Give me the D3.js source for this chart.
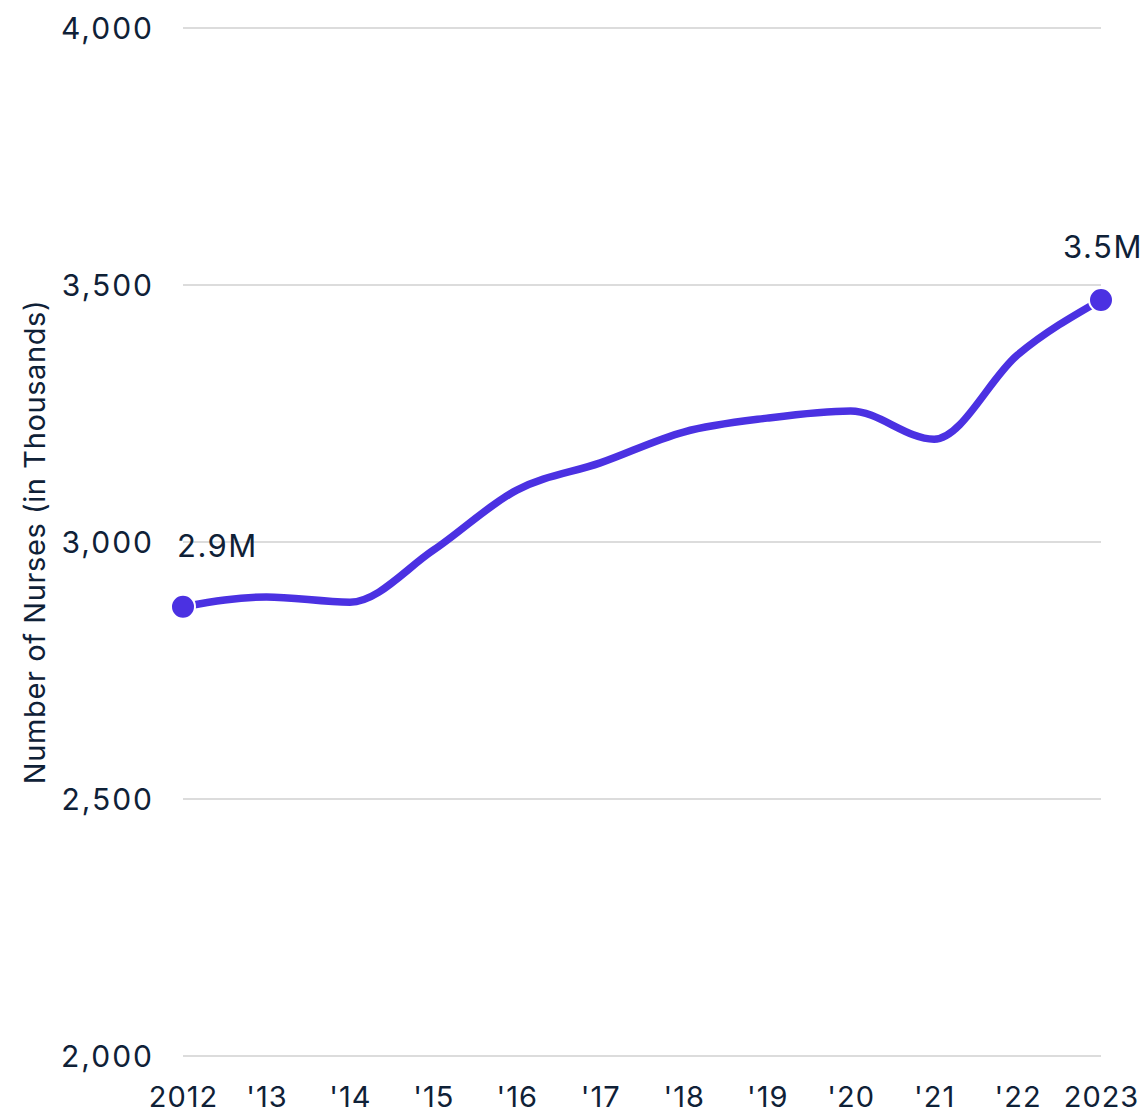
<!DOCTYPE html>
<html>
<head>
<meta charset="utf-8">
<script src="https://cdn.jsdelivr.net/npm/d3@7/dist/d3.min.js"></script>
<style>
  html, body { margin: 0; padding: 0; background: #fff; }
  svg { display: block; font-family: Inter, "Noto Sans", sans-serif; }
</style>
</head>
<body>
<svg id="chart" width="1145" height="1116"></svg>
<script>
const years = [2012, 2013, 2014, 2015, 2016, 2017, 2018, 2019, 2020, 2021, 2022, 2023];
const xTickLabels = ["2012", "'13", "'14", "'15", "'16", "'17", "'18", "'19", "'20", "'21", "'22", "2023"];
const nurses = [2874, 2893, 2883, 2984, 3101, 3154, 3214, 3241, 3255, 3200, 3364, 3471];
const yTicks = [2000, 2500, 3000, 3500, 4000];
const endLabels = ["2.9M", "3.5M"];
const yTitle = "Number of Nurses (in Thousands)";

const svg = d3.select("#chart");
const x = d3.scaleLinear().domain([2012, 2023]).range([183, 1101]);
const y = d3.scaleLinear().domain([2000, 4000]).range([1056, 28]);
const textColor = "#0f2137";
const lineColor = "#4b31e2";

// gridlines
svg.append("g").selectAll("line").data(yTicks).join("line")
  .attr("x1", x(2012)).attr("x2", x(2023))
  .attr("y1", d => y(d)).attr("y2", d => y(d))
  .attr("stroke", "#dcdcdc").attr("stroke-width", 2);

// y axis
const yAxis = svg.append("g").attr("transform", "translate(183,0)")
  .call(d3.axisLeft(y).tickValues(yTicks).tickFormat(d3.format(",")).tickSize(0).tickPadding(29));
yAxis.select(".domain").remove();
yAxis.selectAll("text").attr("font-size", 30).attr("fill", textColor)
  .attr("letter-spacing", "2px")
  .attr("font-family", "Inter, 'Noto Sans', sans-serif").attr("dy", "0.34em");

// x axis
const xAxis = svg.append("g").attr("transform", "translate(0,1056)")
  .call(d3.axisBottom(x).tickValues(years).tickFormat((d, i) => xTickLabels[i]).tickSize(0).tickPadding(30));
xAxis.select(".domain").remove();
xAxis.selectAll("text").attr("font-size", 29).attr("fill", textColor)
  .attr("letter-spacing", "1px")
  .attr("font-family", "Inter, 'Noto Sans', sans-serif");

// y title
svg.append("text")
  .attr("transform", `translate(45,${(y(2000) + y(4000)) / 2}) rotate(-90)`)
  .attr("text-anchor", "middle")
  .attr("font-size", 29).attr("fill", textColor)
  .attr("letter-spacing", "0.6px")
  .text(yTitle);

// line
const data = years.map((yr, i) => ({ yr, v: nurses[i] }));
svg.append("path").datum(data)
  .attr("fill", "none").attr("stroke", lineColor).attr("stroke-width", 7.5)
  .attr("stroke-linecap", "round")
  .attr("d", d3.line().x(d => x(d.yr)).y(d => y(d.v)).curve(d3.curveMonotoneX));

// endpoint dots
const ends = [data[0], data[data.length - 1]];
svg.append("g").selectAll("circle").data(ends).join("circle")
  .attr("cx", d => x(d.yr)).attr("cy", d => y(d.v)).attr("r", 12)
  .attr("fill", lineColor).attr("stroke", "#fff").attr("stroke-width", 2);

// end labels
svg.append("text").attr("x", x(2012) - 6).attr("y", y(nurses[0]) - 50)
  .attr("font-size", 31).attr("fill", textColor).attr("text-anchor", "start")
  .attr("letter-spacing", "1.5px")
  .text(endLabels[0]);
svg.append("text").attr("x", x(2023) + 2).attr("y", y(nurses[nurses.length - 1]) - 42)
  .attr("font-size", 31).attr("fill", textColor).attr("text-anchor", "middle")
  .attr("letter-spacing", "1.5px")
  .text(endLabels[1]);
</script>
</body>
</html>
